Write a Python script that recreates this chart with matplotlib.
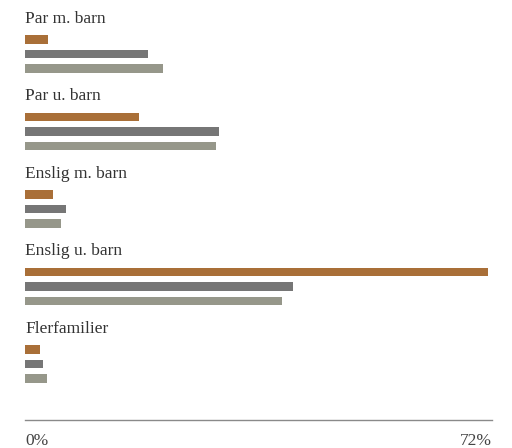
import matplotlib
matplotlib.use("Agg")
from matplotlib import pyplot as plt
import numpy as np

groups = ["Par m. barn", "Par u. barn", "Enslig m. barn", "Enslig u. barn", "Flerfamilier"]
series_a = [3.5, 17.6, 4.3, 71.4, 2.3]
series_b = [19.0, 29.9, 6.3, 41.3, 2.8]
series_c = [21.3, 29.4, 5.6, 39.6, 3.4]
x_max = 72
tick_labels = ["0%", "72%"]

colors = ["#a96f38", "#767676", "#96978a"]
offsets = [0.27, 0.457, 0.644]
bar_h = 0.105

plt.rcParams["font.family"] = ["Liberation Serif", "DejaVu Serif"]

fig = plt.figure(figsize=(5.12, 4.48), dpi=100)
ax = fig.add_axes([25 / 512, 28 / 448, 467 / 512, 420 / 448])

idx = np.arange(len(groups))
for vals, off, col in zip([series_a, series_b, series_c], offsets, colors):
    ax.barh(idx + off, vals, height=bar_h, color=col, edgecolor="none")

for i, name in enumerate(groups):
    ax.text(0, i, name, va="center", ha="left", fontsize=12.5, color="#333333")

ax.set_xlim(0, x_max)
ax.set_ylim(5.18, -0.24)

for s in ["top", "right", "left"]:
    ax.spines[s].set_visible(False)
ax.spines["bottom"].set_color("#8a8a8a")
ax.spines["bottom"].set_linewidth(1)

ax.set_yticks([])
ax.set_xticks([0, x_max])
ax.set_xticklabels(tick_labels, fontsize=12.5, color="#444444")
ax.tick_params(axis="x", length=0, pad=9)
lbls = ax.get_xticklabels()
lbls[0].set_ha("left")
lbls[1].set_ha("right")

fig.savefig("out.png", dpi=100)
